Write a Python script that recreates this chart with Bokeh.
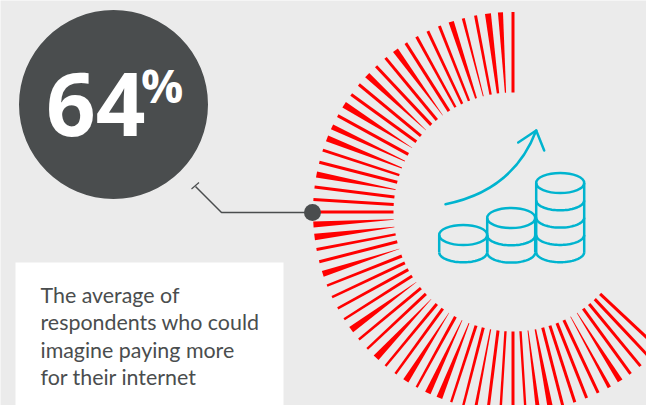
import numpy as np
from bokeh.embed import file_html
from bokeh.models import Range1d
from bokeh.plotting import figure
from bokeh.resources import INLINE
from bokeh.core.properties import value

# Headline figure and caption
headline_value = "64"
headline_unit = "%"
caption_lines = [
    "The average of",
    "respondents who could",
    "imagine paying more",
    "for their internet",
]

# One spoke per percentage point: its weight at the rim and at the hub end
spoke_rim = [10, 17, 20, 10, 10, 18, 10, 10, 10, 10, 20, 10, 10, 20, 10, 10,
             22, 10, 18, 20, 10, 10, 20, 10, 10, 10, 20, 22, 10, 10, 20, 8,
             8, 8, 8, 22, 8, 8, 22, 8, 8, 20, 8, 20, 20, 8, 8, 10,
             10, 8, 10, 8, 14, 18, 10, 10, 10, 10, 12, 18, 10, 10, 10, 10]
spoke_hub = [10, 4, 8, 8, 3, 6, 8, 8, 8, 10, 1, 10, 10, 1, 10, 10,
             1, 10, 3, 3, 8, 10, 3, 10, 10, 10, 1, 2, 8, 10, 1, 10,
             10, 10, 10, 1, 10, 10, 1, 10, 10, 1, 10, 2, 3, 10, 10, 4,
             10, 8, 10, 8, 3, 5, 10, 10, 10, 10, 2, 2, 10, 10, 10, 10]

INK = "#4a4d4e"
RED = "#ff0000"
TEAL = "#00b4cf"
BG = "#ebebeb"
STEP = 3.6
CX, CY, R_OUT, R_IN = 512.5, 211.5, 200.0, 119.5
WEIGHT = 0.3

p = figure(width=646, height=405, output_backend="svg", toolbar_location=None,
           x_range=Range1d(0, 646), y_range=Range1d(405, 0), min_border=0,
           background_fill_color=BG, border_fill_color=BG, outline_line_color=None)
p.axis.visible = False
p.grid.visible = False

# Radial spokes, running counter-clockwise from twelve o'clock
xs, ys = [], []
for i, (rim, hub) in enumerate(zip(spoke_rim, spoke_hub)):
    a = np.radians(90 + i * STEP)
    ux, uy = np.cos(a), -np.sin(a)
    nx, ny = -uy, ux
    w_o, w_i = rim * WEIGHT / 2, hub * WEIGHT / 2
    xs.append([CX + R_OUT * ux + w_o * nx, CX + R_OUT * ux - w_o * nx,
               CX + R_IN * ux - w_i * nx, CX + R_IN * ux + w_i * nx])
    ys.append([CY + R_OUT * uy + w_o * ny, CY + R_OUT * uy - w_o * ny,
               CY + R_IN * uy - w_i * ny, CY + R_IN * uy + w_i * ny])
p.patches(xs, ys, fill_color=RED, line_color=None)

# Headline disc
p.circle([113], [104], radius=94.5, fill_color=INK, line_color=None)
p.text([45.5], [103.5], text=[headline_value], text_font=value("Open Sans"), text_font_style="bold",
       text_font_size="87px", text_color="white", text_baseline="middle", text_align="left")
p.text([140.5], [84.5], text=[headline_unit], text_font=value("Open Sans"), text_font_style="bold",
       text_font_size="47px", text_color="white", text_baseline="middle", text_align="left")

# Leader from the disc to the ring
p.line([312, 221, 195], [212, 212, 186], line_color=INK, line_width=1.5)
p.line([191, 198.5], [188.5, 182], line_color=INK, line_width=1.2)
p.circle([312], [212], radius=8.5, fill_color=INK, line_color=None)

# Caption panel
p.quad(left=[15], right=[283], top=[262], bottom=[405], fill_color="white", line_color=None)
for k, line in enumerate(caption_lines):
    p.text([40], [294.5 + k * 27.3], text=[line], text_font=value("Lato"), text_font_size="21.4px",
           text_color=INK, text_baseline="middle", text_align="left")

# Coin stacks
RX, RY, GAP = 24.0, 10.0, 17.3
stacks = [(462.7, 234.5, 1), (510.7, 217.5, 2), (559.7, 182.5, 4)]
t = np.linspace(0, np.pi, 40)
for sx, sy, n in stacks:
    p.ellipse([sx], [sy], width=2 * RX, height=2 * RY, fill_color=None, line_color=TEAL, line_width=2.5)
    for j in range(1, n + 1):
        p.line(sx + RX * np.cos(t), sy + j * GAP + RY * np.sin(t), line_color=TEAL, line_width=2.5)
    p.line([sx - RX, sx - RX], [sy, sy + n * GAP], line_color=TEAL, line_width=2.5)
    p.line([sx + RX, sx + RX], [sy, sy + n * GAP], line_color=TEAL, line_width=2.5)

# Rising arrow
p.quadratic(x0=[445], y0=[203.7], x1=[535.7], y1=[130], cx=[513], cy=[190],
            line_color=TEAL, line_width=2.5, line_cap="round")
p.line([517.7, 535.7, 543.7], [142, 130, 150], line_color=TEAL, line_width=2.5,
       line_cap="round", line_join="round")

open("out.html", "w").write(file_html(p, INLINE))
